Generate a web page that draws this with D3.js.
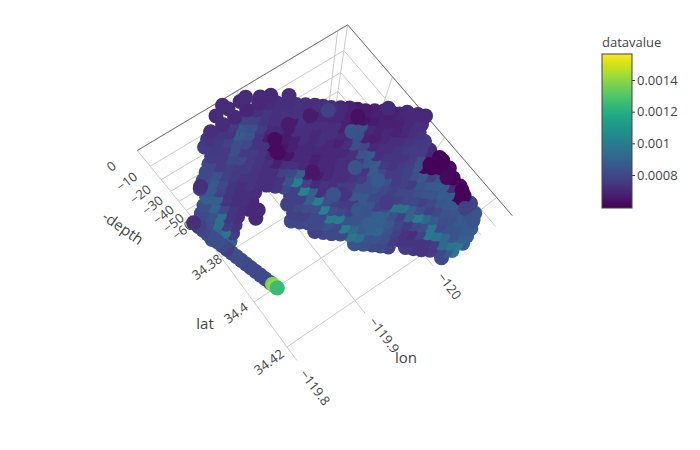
<!DOCTYPE html>
<html><head><meta charset="utf-8">
<script src="https://cdn.jsdelivr.net/npm/d3@7"></script>
<style>html,body{margin:0;background:#fff}text{font-family:"Open Sans",sans-serif;fill:#444}</style>
</head><body><svg id="c" width="700" height="450"></svg>
<script>
// ---- data -----------------------------------------------------------
const latTicks=[34.38,34.4,34.42];
const lonTicks=[-119.8,-119.9,-120];
const depthTicks=[0,-10,-20,-30,-40,-50,-60];
const colorTicks=[0.0014,0.0012,0.001,0.0008];
const rowLat=[34.3654,34.368,34.3692,34.3704,34.3718,34.3732,34.3745,34.3758,34.3767,34.3776,34.3789,34.3802,34.3812,34.3822,34.3835,34.3848,34.3859,34.387,34.3884,34.3898,34.3909,34.392,34.3934,34.3948,34.396,34.3972,34.3986,34.4,34.4013,34.4026,34.404,34.4054,34.4067,34.408,34.4095,34.411,34.4124,34.4138,34.4152,34.4166,34.4181,34.4196,34.4211,34.4226,34.4237,34.4248];
const rowDepth=[0,0,0,0,0,0,0,0,-1,-2,-2,-2,-3,-4,-4,-4,-5,-6,-6,-6,-7,-8,-8,-8,-9,-10,-10,-10,-11,-12,-12,-12,-13,-14,-14,-14,-15,-16,-16,-16,-17,-18,-18,-18,-19,-20];
// degrees west of -119.8, in thousandths
const rowLonWest=[
[72,84,96],
[60,72,84,96,108,120],
[54,66,78,90,102,114],
[48,60,72,84,96,108,120,132],
[54,66,78,90,102,114,126],
[48,60,72,84,96,108,120,132],
[42,54,66,78,90,102,114,126,138],
[36,48,60,72,84,96,108,120,132,144],
[30,42,54,66,78,90,102,114,126,138,150],
[24,36,48,60,72,84,96,108,120,132,144,156],
[30,42,54,66,78,90,102,114,126,138,150,162],
[24,36,48,60,72,84,96,108,120,132,144,156,168],
[18,30,42,54,66,78,90,102,114,126,138,150,162,174],
[12,24,36,48,60,72,84,96,108,120,132,144,156,168,180],
[6,18,30,42,54,66,78,90,102,114,126,138,150,162,174,186],
[12,24,36,48,60,72,84,96,108,120,132,144,156,168,180,192],
[6,18,30,42,54,78,90,102,114,126,138,150,162,174,186,198],
[12,24,36,48,84,96,108,120,132,144,156,168,180,192,204],
[6,18,30,54,90,102,114,126,138,150,162,174,186,198,210],
[12,24,48,84,96,108,120,132,144,156,168,180,192,204,216],
[18,78,90,102,114,126,138,150,162,174,186,198,210,222],
[12,84,96,108,120,132,144,156,168,180,192,204,216],
[78,90,102,114,126,138,150,162,174,186,198,210],
[72,84,96,108,120,132,144,156,168,180,192,204],
[78,90,102,114,126,138,150,162,174,186,198,210],
[84,96,108,120,132,144,156,168,180,192,204],
[90,102,114,126,138,150,162,174,186,198,210],
[84,96,108,120,132,144,156,168,180,192,204],
[90,102,114,126,138,150,162,174,186,198,210],
[96,108,120,132,144,156,168,180,192,204,216],
[102,114,126,138,150,162,174,186,198,210],
[108,120,132,144,156,168,180,192,204,216],
[114,126,138,150,162,174,186,198,210],
[108,120,132,144,156,168,180,192,204,216],
[114,126,138,150,162,174,186,198,210],
[120,132,144,156,168,180,192,204,216],
[126,138,150,162,174,186,198,210],
[132,144,156,168,180,192,204,216],
[150,162,174,186,198,210],
[144,156,168,180,192,204,216],
[150,162,174,186,198,210],
[156,168,180,192,204,216],
[162,174,186,198,210],
[168,180,192,204],
[174,186,198],
[168,180,192]];
// datavalue in units of 1e-5
const rowValue=[
[71,71,70],
[72,71,70,69,70,70],
[74,74,76,78,72,71],
[76,75,74,84,78,74,72,72],
[75,78,86,82,74,72,72],
[76,76,82,84,76,72,73,73],
[80,76,82,80,74,70,72,73,72],
[80,76,80,76,74,66,70,66,74,72],
[82,84,78,80,76,74,64,66,74,66,72],
[78,86,78,76,76,74,62,66,72,72,70,72],
[86,80,76,76,74,70,64,68,72,72,70,70],
[88,78,74,74,74,72,62,68,72,70,72,70,68],
[82,88,74,72,74,72,68,64,70,70,72,72,68,66],
[80,90,74,72,74,72,72,72,70,70,72,72,68,64,66],
[80,84,80,72,72,72,72,78,72,70,70,70,70,80,64,68],
[82,94,74,72,72,72,74,80,70,68,70,68,70,84,66,68],
[84,94,74,72,70,74,84,88,68,70,70,72,82,70,68,68],
[90,76,72,70,80,100,66,70,70,70,82,68,68,68,69],
[84,96,74,70,78,78,66,70,72,72,80,68,70,68,70],
[96,76,70,78,102,70,70,72,72,84,70,70,68,70,70],
[88,78,78,88,74,72,72,76,86,72,72,70,72,70],
[84,80,88,72,72,72,74,85,72,72,72,72,72],
[78,82,100,78,76,74,74,86,74,74,74,74],
[80,78,82,82,80,76,76,86,75,74,75,75],
[80,80,100,78,74,82,82,80,74,74,76,76],
[80,80,82,76,86,82,87,76,76,76,76],
[80,100,80,76,86,84,82,76,78,82,70],
[78,84,100,78,86,80,80,76,78,84,62],
[80,80,84,84,84,80,78,78,82,60,60],
[80,100,84,84,78,78,80,76,86,60,60],
[80,92,86,88,80,78,80,84,78,60],
[98,86,90,88,96,80,82,86,84,62],
[94,90,88,84,96,80,84,87,60],
[84,84,90,86,78,88,78,84,87,60],
[82,84,84,80,90,82,80,87,70],
[80,82,78,76,100,78,85,87,62],
[80,76,74,80,92,80,86,60],
[78,74,72,82,86,84,86,60],
[74,78,98,82,84,84],
[76,74,98,80,82,86,78],
[74,74,96,84,86,84],
[74,76,92,84,86,84],
[76,92,84,86,85],
[80,96,88,87],
[86,98,88],
[80,96,88]];
const ballLon=[-119.899,-119.894,-119.916,-119.935,-119.907,-119.95,-119.915,-119.954,-119.966,-119.945,-119.937,-119.939,-119.917,-119.909,-119.986,-119.996,-119.99,-119.9925,-119.988,-119.99,-120,-119.917,-119.985,-119.984,-119.882,-119.825,-119.902,-119.912];
const ballLat=[34.3778,34.3806,34.3764,34.3774,34.3894,34.3786,34.398,34.3862,34.3838,34.3998,34.3942,34.4056,34.4034,34.3969,34.4038,34.4036,34.4088,34.4136,34.4152,34.3862,34.3896,34.4078,34.4178,34.4212,34.364,34.378,34.3652,34.367];
const ballDepth=[0,0,0,0,0,0,0,0,0,0,0,0,0,0,0,0,0,0,0,0,0,0,0,0,0,0,0,0];
const ballValue=[62,62,66,66,65,78,74,84,63,86,84,76,85,84,60,60,61,60,60,70,70,88,78,84,71,72,71,70];
const trackLat=[34.366,34.368,34.37,34.372,34.374,34.376,34.378,34.38,34.382,34.384,34.386,34.388,34.39,34.392,34.394,34.396,34.398,34.399,34.4,34.401];
const trackLon=[-119.798,-119.8,-119.802,-119.804,-119.806,-119.808,-119.81,-119.812,-119.814,-119.816,-119.818,-119.82,-119.822,-119.824,-119.826,-119.828,-119.83,-119.831,-119.832,-119.833];
const trackDepth=[-55,-55,-55,-55,-55,-55,-55,-55,-55,-55,-55,-55,-55,-55,-55,-55,-55,-55,-55,-55];
const trackValue=[72,78,80,82,82,82,80,78,82,82,81,81,81,81,81,81,81,137,140,125];

// ---- scene ------------------------------------------------------------
const svg=d3.select('#c');
const latMin=34.3628,latMax=34.426,lonMin=-120.01,lonMax=-119.8,depthMin=-60;
const U=d3.scaleLinear().domain([-119.8,-119.9]).range([0,1]);
const V=d3.scaleLinear().domain([34.42,34.40]).range([0,1]);
const persp=d3.scaleLinear().domain([0,-60]).range([1,1.515]);
const vpx=300,vpy=350;
function project(lon,lat,depth){
  const u=U(lon),v=V(lat);
  const x60=287+(68-.66*v)*u-33*v, y60=347+(-46.5+2.45*v)*u-45*v;
  const k=1.515/persp(depth);
  return [vpx+k*(x60-vpx),vpy+k*(y60-vpy)];
}
const gGrid=svg.append('g').attr('fill','none').attr('stroke','#ccc').attr('stroke-width',1);
function seg(g,a,b){const p=project(...a),q=project(...b);g.append('line').attr('x1',p[0]).attr('y1',p[1]).attr('x2',q[0]).attr('y2',q[1]);}
latTicks.forEach(t=>seg(gGrid,[lonMax,t,depthMin],[lonMin,t,depthMin]));
lonTicks.forEach(t=>seg(gGrid,[t,latMin,depthMin],[t,latMax,depthMin]));
depthTicks.forEach(d=>{seg(gGrid,[lonMax,latMin,d],[lonMin,latMin,d]);seg(gGrid,[lonMin,latMin,d],[lonMin,latMax,d]);});
lonTicks.forEach(t=>seg(gGrid,[t,latMin,0],[t,latMin,depthMin]));
latTicks.forEach(t=>seg(gGrid,[lonMin,t,0],[lonMin,t,depthMin]));
seg(gGrid,[lonMin,latMin,0],[lonMin,latMin,depthMin]);
const gEdge=svg.append('g').attr('stroke','#777').attr('stroke-width',1);
seg(gEdge,[lonMax,latMin,0],[lonMin,latMin,0]);
seg(gEdge,[lonMin,latMin,0],[lonMin,latMax,0]);

// colour
const color=d3.scaleSequential(d3.interpolateViridis).domain([0.00059,0.001565]);
const rowPts=rowLat.map((lat,i)=>rowLonWest[i].map((w,j)=>({lon:-119.8-w/1000,lat,depth:rowDepth[i],value:rowValue[i][j]*1e-5})));
const trackPts=trackLat.map((lat,i)=>({lon:trackLon[i],lat,depth:trackDepth[i],value:trackValue[i]*1e-5}));
const ballPts=ballLat.map((lat,i)=>({lon:ballLon[i],lat,depth:ballDepth[i],value:ballValue[i]*1e-5}));
const body=trackPts.slice(0,17).reverse();
const pts=d3.merge(rowPts.slice().reverse()).concat(ballPts,body,trackPts.slice(17));
svg.append('g').selectAll('circle').data(pts).join('circle')
  .attr('cx',d=>project(d.lon,d.lat,d.depth)[0]).attr('cy',d=>project(d.lon,d.lat,d.depth)[1])
  .attr('r',7.5).attr('fill',d=>color(d.value));

// 3d tick labels
const fs=13;
function lab(p,dx,dy,rot,txt,size){
  const x=p[0]+dx,y=p[1]+dy;
  svg.append('text').attr('transform',`translate(${x},${y}) rotate(${rot})`).attr('text-anchor','middle').attr('dy','.35em').attr('font-size',size||fs).text(txt);
}
const minus=s=>String(s).replace('-','\u2212');
const latOff=[[-14,10],[-18,11],[-18,15]];
latTicks.forEach((t,i)=>lab(project(lonMax,t,depthMin),latOff[i][0],latOff[i][1],-36,t));
const lonOff=[[18,27],[19,22],[16,20]];
lonTicks.forEach((t,i)=>lab(project(t,latMax,depthMin),lonOff[i][0],lonOff[i][1],53,minus(t)));
depthTicks.forEach(d=>lab(project(lonMax,latMin,d),-26-16*d/60,16+4*d/60,-38,minus(d)));
svg.append('text').attr('transform','translate(123,228) rotate(35)').attr('text-anchor','middle').attr('dy','.35em').attr('font-size',15).text('-depth');
svg.append('text').attr('transform','translate(205,324)').attr('text-anchor','middle').attr('dy','.35em').attr('font-size',15).text('lat');
svg.append('text').attr('transform','translate(406,358)').attr('text-anchor','middle').attr('dy','.35em').attr('font-size',15).text('lon');

// colour bar
const barY=d3.scaleLinear().domain([0.0008,0.0014]).range([175,80]);
const barTop=54,barBottom=208,barLeft=602,barRight=632;
const grad=svg.append('defs').append('linearGradient').attr('id','vg').attr('x1',0).attr('x2',0).attr('y1',1).attr('y2',0);
d3.range(0,1.001,.05).forEach(t=>grad.append('stop').attr('offset',t).attr('stop-color',d3.interpolateViridis(t)));
svg.append('rect').attr('x',barLeft).attr('y',barTop).attr('width',barRight-barLeft).attr('height',barBottom-barTop).attr('fill','url(#vg)').attr('stroke','#444').attr('stroke-width',1);
const ax=d3.axisRight(barY).tickValues(colorTicks).tickSize(3).tickPadding(2).tickFormat(d=>String(+d.toFixed(4)));
const gAx=svg.append('g').attr('transform',`translate(${barRight},0)`).call(ax);
gAx.select('.domain').remove();
gAx.selectAll('line').attr('stroke','#444');
gAx.selectAll('text').attr('font-size',13).attr('font-family','"Open Sans",sans-serif');
svg.append('text').attr('x',602).attr('y',47).attr('font-size',13).text('datavalue');
</script></body></html>
